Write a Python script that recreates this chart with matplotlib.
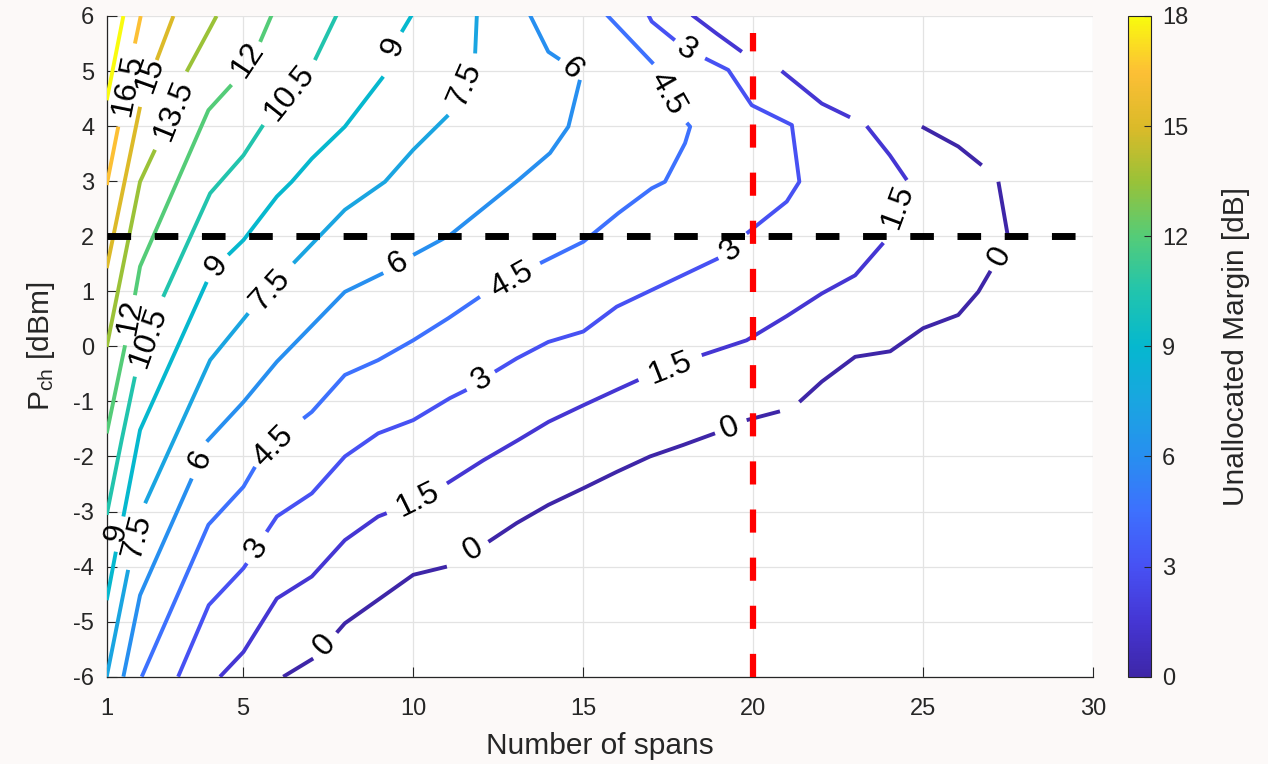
import numpy as np
import matplotlib
matplotlib.use("Agg")
import matplotlib.pyplot as plt
from matplotlib.colors import LinearSegmentedColormap, Normalize
from matplotlib.colorbar import ColorbarBase

plt.rcParams['font.family'] = ['Liberation Sans', 'DejaVu Sans']
plt.rcParams['mathtext.fontset'] = 'custom'
plt.rcParams['mathtext.rm'] = 'Liberation Sans'
plt.rcParams['mathtext.it'] = 'Liberation Sans:italic'
plt.rcParams['axes.unicode_minus'] = False

nan = np.nan

# contour lines (spans, dBm); nan = gap in the line
c00_x = [6.19, 7.07, nan, 7.76, 8.0, 9.03, 10.01, 11.0, nan, 12.22, 13.05, 13.98, 15.0, 15.99, 16.97, 17.95, 18.88, nan,
         19.81, 20.79, nan, 21.36, 22.02, 23.0, 24.03, 25.0, 26.03, 26.62, 26.98, nan, 27.5, 27.21, nan, 26.72, 26.03, 24.96]
c00_y = [-6.0, -5.67, nan, -5.2, -5.03, -4.58, -4.15, -4.0, nan, -3.55, -3.21, -2.88, -2.58, -2.28, -2.0, -1.79, -1.58, nan,
         -1.34, -1.18, nan, -1.01, -0.64, -0.19, -0.09, 0.33, 0.57, 0.99, 1.37, nan, 1.96, 2.99, nan, 3.29, 3.63, 3.99]

c15_x = [4.33, 5.02, 6.0, 7.03, 8.0, 8.98, 9.23, nan, 11.0, 12.07, 13.1, 13.99, 15.01, 15.99, 16.63, nan,
         18.49, 19.81, 20.99, 22.02, 23.0, 23.83, nan, 24.52, 24.02, 23.34, nan, 22.85, 22.02, 20.84, nan, 19.67, 18.93, 18.2]
c15_y = [-6.0, -5.55, -4.58, -4.18, -3.52, -3.09, -3.03, nan, -2.49, -2.07, -1.7, -1.37, -1.07, -0.79, -0.61, nan,
         -0.16, 0.11, 0.55, 0.96, 1.29, 1.88, nan, 3.02, 3.47, 4.0, nan, 4.16, 4.41, 5.0, nan, 5.35, 5.68, 6.02]

c30_x = [3.1, 4.0, 5.02, 5.12, nan, 5.7, 6.0, 7.03, 8.0, 8.98, 10.01, 11.09, 11.58, nan, 12.41, 13.05, 13.98, 15.01, 15.99,
         18.98, nan, 19.81, 20.99, 21.36, 21.14, 19.96, 19.27, 18.59, nan, 17.7, 17.02, 16.92]
c30_y = [-6.0, -4.7, -4.03, -3.94, nan, -3.37, -3.09, -2.67, -2.0, -1.58, -1.34, -0.94, -0.79, nan, -0.46, -0.22, 0.08, 0.27, 0.72,
         1.6, nan, 2.05, 2.63, 2.99, 4.02, 4.38, 5.02, 5.23, nan, 5.56, 5.9, 6.02]

c45_x = [2.03, 3.99, 5.02, 5.36, nan, 6.78, 7.03, 8.0, 8.98, 10.01, 11.04, 11.97, nan, 13.74, 15.01, 16.04, 17.02, 17.41,
         18.0, 18.15, 18.05, nan, 17.07, 15.7]
c45_y = [-6.0, -3.24, -2.55, -2.19, nan, -1.31, -1.19, -0.52, -0.25, 0.11, 0.51, 0.9, nan, 1.51, 1.9, 2.42, 2.87, 2.99,
         3.69, 3.99, 4.06, nan, 5.13, 6.02]

c60_x = [1.49, 1.98, 3.5, nan, 3.94, 5.02, 6.0, 8.0, 9.13, nan, 10.01, 11.09, 13.1, 14.03, 14.57, 14.91, nan, 14.32, 13.98, 13.44]
c60_y = [-6.0, -4.52, -2.4, nan, -1.73, -1.01, -0.28, 0.99, 1.33, nan, 1.66, 2.02, 3.02, 3.51, 3.99, 4.84, nan, 5.21, 5.35, 6.02]

c75_x = [1.0, 1.63, nan, 2.13, 4.04, 5.16, nan, 6.49, 8.0, 9.18, 10.01, 11.04, nan, 11.83, 11.88]
c75_y = [-6.0, -4.06, nan, -2.85, -0.25, 0.6, nan, 1.51, 2.48, 2.99, 3.57, 4.2, nan, 5.32, 6.02]

c90_x = [1.0, 1.27, nan, 1.49, 1.98, 3.94, nan, 4.57, 5.02, 6.0, 6.44, 7.03, 8.0, 9.13, nan, 9.67, 9.97]
c90_y = [-4.61, -3.73, nan, -3.09, -1.52, 1.17, nan, 1.66, 1.93, 2.72, 2.99, 3.41, 3.99, 4.9, nan, 5.71, 6.02]

c105_x = [1.0, 1.44, 1.83, nan, 2.66, 4.04, 5.02, 5.6, nan, 7.12, 7.76]
c105_y = [-3.06, -1.7, -0.55, nan, 0.9, 2.78, 3.47, 4.02, nan, 5.2, 6.02]

c120_x = [1.0, 1.54, nan, 1.83, 1.98, 3.99, 4.67, nan, 5.51, 5.85]
c120_y = [-1.58, 0.02, nan, 0.93, 1.45, 4.29, 4.75, nan, 5.53, 6.02]

c135_x = [1.0, 1.98, 2.42, nan, 3.35, 4.04, 4.23]
c135_y = [-0.01, 2.99, 3.57, nan, 4.99, 5.78, 6.0]

c150_x = [1.0, 1.98, nan, 2.47, 2.96]
c150_y = [1.42, 4.35, nan, 5.2, 6.0]

c165_x = [1.0, 1.34, nan, 1.83, 2.0]
c165_y = [2.93, 3.99, nan, 5.5, 6.0]

c180_x = [1.0, 1.49]
c180_y = [4.47, 6.0]

contours = {0: (c00_x, c00_y), 1.5: (c15_x, c15_y), 3: (c30_x, c30_y), 4.5: (c45_x, c45_y),
            6: (c60_x, c60_y), 7.5: (c75_x, c75_y), 9: (c90_x, c90_y), 10.5: (c105_x, c105_y),
            12: (c120_x, c120_y), 13.5: (c135_x, c135_y), 15: (c150_x, c150_y),
            16.5: (c165_x, c165_y), 18: (c180_x, c180_y)}

# inline contour labels
lab_level = [0, 0, 0, 0, 1.5, 1.5, 1.5, 3, 3, 3, 3, 4.5, 4.5, 4.5, 6, 6, 6,
             7.5, 7.5, 7.5, 9, 9, 9, 10.5, 10.5, 12, 12, 13.5, 15, 16.5]
lab_x = [7.41, 11.78, 19.32, 27.26, 10.16, 17.56, 24.27, 5.41, 12.03, 19.37, 18.05, 5.9, 12.9, 17.46, 3.74, 9.57, 14.67,
         1.88, 5.8, 11.53, 1.29, 4.23, 9.42, 2.24, 6.39, 1.68, 5.16, 2.96, 2.27, 1.63]
lab_y = [-5.43, -3.7, -1.49, 1.63, -2.79, -0.4, 2.54, -3.67, -0.61, 1.75, 5.38, -1.82, 1.2, 4.6, -2.06, 1.51, 5.05,
         -3.46, 1.02, 4.75, -3.39, 1.45, 5.44, 0.17, 4.6, 0.54, 5.2, 4.29, 4.93, 4.75]

x_ticks = [1, 5, 10, 15, 20, 25, 30]
y_ticks = list(range(-6, 7))
cb_ticks = [0, 3, 6, 9, 12, 15, 18]
p_ref = 2      # dBm, black dashed line
n_ref = 20     # spans, red dashed line

# parula-like colour map
parula = LinearSegmentedColormap.from_list('parula', [
    (0.000, (0.2422, 0.1504, 0.6603)),
    (0.083, (0.2706, 0.2120, 0.8300)),
    (0.167, (0.2790, 0.3200, 0.9580)),
    (0.250, (0.2400, 0.4400, 0.9950)),
    (0.333, (0.1550, 0.5600, 0.9400)),
    (0.417, (0.1000, 0.6500, 0.8800)),
    (0.500, (0.0200, 0.7200, 0.8100)),
    (0.583, (0.1300, 0.7700, 0.6800)),
    (0.667, (0.3300, 0.8000, 0.4700)),
    (0.750, (0.6000, 0.7600, 0.2200)),
    (0.833, (0.8600, 0.7300, 0.1600)),
    (0.917, (0.9900, 0.7500, 0.2100)),
    (1.000, (0.9763, 0.9831, 0.0538)),
])
norm = Normalize(0, 18)
txt = '#262626'

W, H = 1268, 764
fig = plt.figure(figsize=(W / 100, H / 100), dpi=100, facecolor='#fcf9f8')
ax = fig.add_axes([106.7 / W, 87.3 / H, 986.6 / W, 660.7 / H])
ax.set_xlim(1, 30)
ax.set_ylim(-6, 6)

for lv, (xs, ys) in contours.items():
    ax.plot(xs, ys, color=parula(norm(lv)), lw=2.8, solid_capstyle='butt', zorder=3)

ax.plot([1, 30], [p_ref, p_ref], color='black', lw=5, dashes=(3.4, 3.4), zorder=4)
ax.plot([n_ref, n_ref], [-6, 5.7], color='red', lw=4.5, dashes=(3.7, 4.0), zorder=5)


def label_angle(xs, ys, lx, ly):
    pts = ax.transData.transform(np.column_stack([xs, ys]))
    lp = ax.transData.transform((lx, ly))
    best, ang = None, 0.0
    for i in range(1, len(xs) - 1):
        if np.isnan(xs[i]):
            a, b = pts[i - 1], pts[i + 1]
            d = np.hypot(*((a + b) / 2 - lp))
            if best is None or d < best:
                best = d
                ang = np.degrees(np.arctan2(b[1] - a[1], b[0] - a[0]))
    if ang > 90:
        ang -= 180
    if ang < -90:
        ang += 180
    return ang


for lv, lx, ly in zip(lab_level, lab_x, lab_y):
    xs, ys = contours[lv]
    ang = label_angle(xs, ys, lx, ly)
    ax.text(lx, ly, f'{lv:g}', fontsize=23, color='black', rotation=ang,
            rotation_mode='anchor', ha='center', va='center', zorder=6)

ax.set_xticks(x_ticks)
ax.set_yticks(y_ticks)
ax.grid(True, color='#e3e3e3', lw=0.9)
ax.set_axisbelow(True)
for s in ['top', 'right']:
    ax.spines[s].set_visible(False)
for s in ['left', 'bottom']:
    ax.spines[s].set_color(txt)
    ax.spines[s].set_linewidth(0.9)
ax.tick_params(direction='in', length=7, width=0.8, colors=txt, labelsize=17)
ax.tick_params(axis='x', pad=15)
ax.tick_params(axis='y', pad=9)
ax.set_xlabel('Number of spans', fontsize=21.5, color=txt, labelpad=9)
ax.set_ylabel(r'P$_{\mathrm{ch}}$ [dBm]', fontsize=21.5, color=txt, labelpad=12)

cax = fig.add_axes([1128 / W, 87.3 / H, 23 / W, 660.7 / H])
cb = ColorbarBase(cax, cmap=parula, norm=norm, ticks=cb_ticks)
cb.outline.set_linewidth(0.8)
cb.outline.set_edgecolor(txt)
cax.tick_params(direction='in', length=5, width=0.8, colors=txt, labelsize=17, pad=8)
cb.set_label('Unallocated Margin [dB]', fontsize=21.5, color=txt, labelpad=24)

fig.savefig('out.png', dpi=100, facecolor=fig.get_facecolor())
